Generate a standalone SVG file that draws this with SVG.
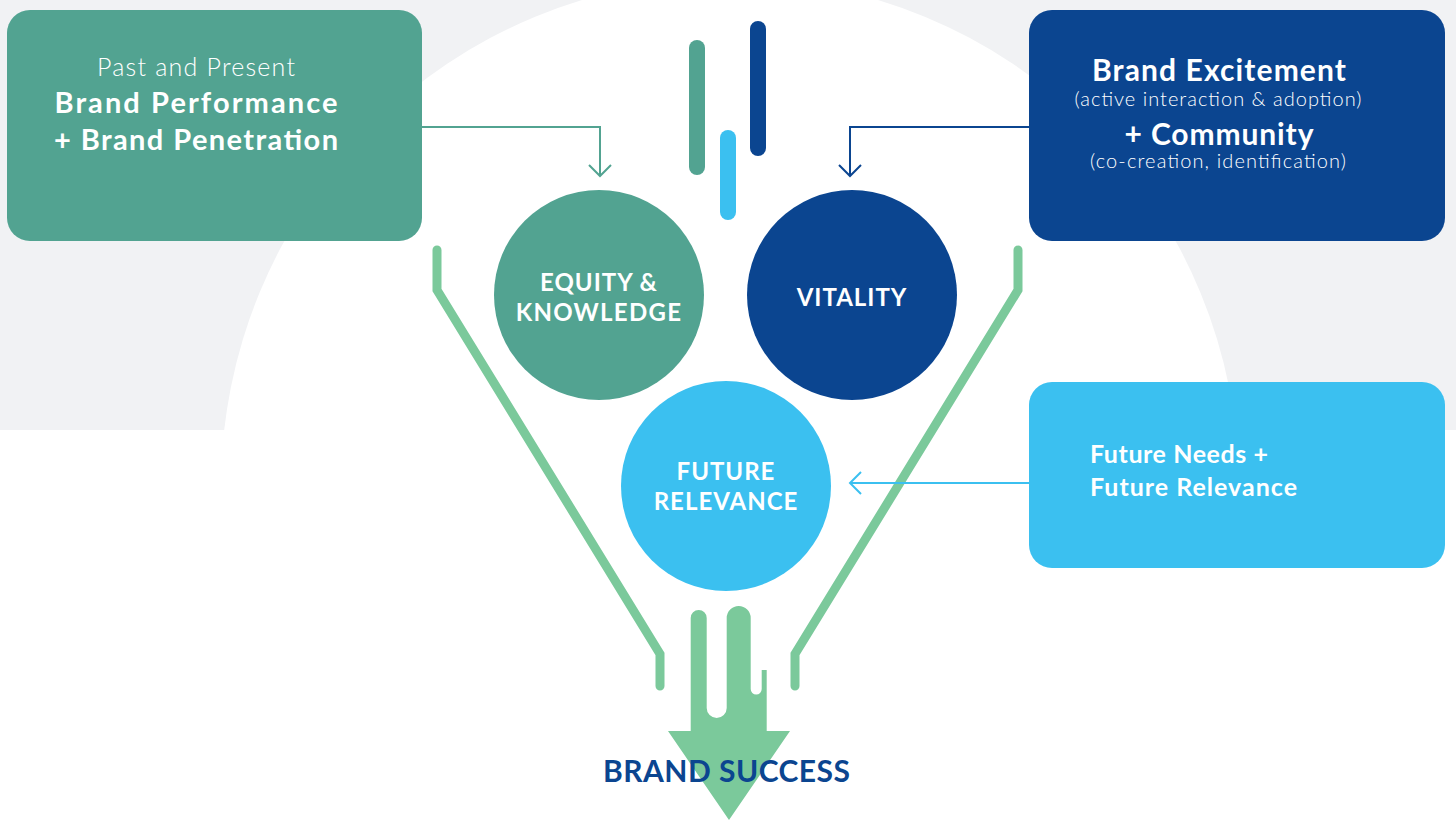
<svg xmlns="http://www.w3.org/2000/svg" width="1456" height="820" viewBox="0 0 1456 820">
  <defs>
    <style>
      .t { font-family: Lato, "Liberation Sans", sans-serif; fill: #ffffff; }
      .b { font-weight: 700; }
      .l { font-weight: 300; }
      .conn { fill: none; stroke-width: 2; }
      .funnel { fill: none; stroke: #7BC99B; stroke-width: 9; stroke-linecap: round; stroke-linejoin: miter; }
      .bar { stroke-width: 16; stroke-linecap: round; }
    </style>
    <clipPath id="bgclip"><rect x="0" y="0" width="1456" height="430"/></clipPath>
  </defs>

  <!-- background -->
  <rect x="0" y="0" width="1456" height="820" fill="#ffffff"/>
  <rect x="0" y="0" width="1456" height="430" fill="#F1F2F4"/>
  <circle cx="730" cy="487" r="509" fill="#ffffff" clip-path="url(#bgclip)"/>

  <!-- top bars -->
  <g id="bars">
    <line class="bar" x1="697" y1="48" x2="697" y2="167" stroke="#52A391"/>
    <line class="bar" x1="758" y1="29" x2="758" y2="148" stroke="#0B4590"/>
    <line class="bar" x1="728" y1="138" x2="728" y2="212" stroke="#3BC0F0"/>
  </g>

  <!-- funnel -->
  <g id="funnel">
    <polyline class="funnel" points="437,250 437,290 660,654 660,686"/>
    <polyline class="funnel" points="1018,250 1018,290 795,654 795,686"/>
  </g>

  <!-- connectors -->
  <g id="connectors">
    <polyline class="conn" stroke="#52A391" points="422,127 600,127 600,176"/>
    <polyline class="conn" stroke="#52A391" points="589,165 600,176 611,165"/>
    <polyline class="conn" stroke="#0B4590" points="1029,127 850,127 850,176"/>
    <polyline class="conn" stroke="#0B4590" points="839,165 850,176 861,165"/>
    <polyline class="conn" stroke="#3BC0F0" points="1029,483 850,483"/>
    <polyline class="conn" stroke="#3BC0F0" points="861,472 850,483 861,494"/>
  </g>

  <!-- left box -->
  <g id="box-past">
    <rect x="7" y="10" width="415" height="231" rx="23" fill="#52A391"/>
    <text class="t l" x="196" y="76" font-size="25" text-anchor="middle" textLength="198">Past and Present</text>
    <text class="t b" x="196" y="113" font-size="29" text-anchor="middle" textLength="283">Brand Performance</text>
    <text class="t b" x="196" y="150" font-size="29" text-anchor="middle" textLength="284">+ Brand Penetration</text>
  </g>

  <!-- right top box -->
  <g id="box-excitement">
    <rect x="1029" y="10" width="416" height="231" rx="23" fill="#0B4590"/>
    <text class="t b" x="1219" y="81" font-size="30" text-anchor="middle" textLength="254">Brand Excitement</text>
    <text class="t l" x="1218" y="106" font-size="20" text-anchor="middle" textLength="287">(active interaction &amp; adoption)</text>
    <text class="t b" x="1219" y="145" font-size="30" text-anchor="middle" textLength="189">+ Community</text>
    <text class="t l" x="1218" y="168" font-size="20" text-anchor="middle" textLength="256">(co-creation, identification)</text>
  </g>

  <!-- right bottom box -->
  <g id="box-future">
    <rect x="1029" y="382" width="416" height="186" rx="23" fill="#3BC0F0"/>
    <text class="t b" x="1090" y="463" font-size="25" textLength="178">Future Needs +</text>
    <text class="t b" x="1090" y="496" font-size="25" textLength="207">Future Relevance</text>
  </g>

  <!-- circles -->
  <g id="equity">
    <circle cx="599" cy="295" r="105" fill="#52A391"/>
    <text class="t b" x="599" y="291" font-size="24" text-anchor="middle" letter-spacing="1">EQUITY &amp;</text>
    <text class="t b" x="599" y="321" font-size="24" text-anchor="middle" letter-spacing="1.3">KNOWLEDGE</text>
  </g>
  <g id="vitality">
    <circle cx="852" cy="295" r="105" fill="#0B4590"/>
    <text class="t b" x="852" y="306" font-size="24" text-anchor="middle" letter-spacing="1">VITALITY</text>
  </g>
  <g id="future-relevance">
    <circle cx="726" cy="486" r="105" fill="#3BC0F0"/>
    <text class="t b" x="726" y="480" font-size="24" text-anchor="middle" letter-spacing="1">FUTURE</text>
    <text class="t b" x="726" y="510" font-size="24" text-anchor="middle" letter-spacing="1">RELEVANCE</text>
  </g>

  <!-- bottom arrow -->
  <g id="brand-success">
    <path fill="#7BC99B" d="M668,731 L690.7,731 L690.7,618 A8,8 0 0 1 706.7,618 L706.7,708 A10,10 0 0 0 726.7,708 L726.7,618 A12,12 0 0 1 750.7,618 L750.7,689 A5.5,5.5 0 0 0 761.7,689 L761.7,670 L766.7,670 L766.7,731 L790,731 L729,820 Z"/>
    <text x="726.5" y="782" font-family="Lato, 'Liberation Sans', sans-serif" font-weight="700" font-size="30" fill="#0B4590" text-anchor="middle" textLength="247">BRAND SUCCESS</text>
  </g>
</svg>
